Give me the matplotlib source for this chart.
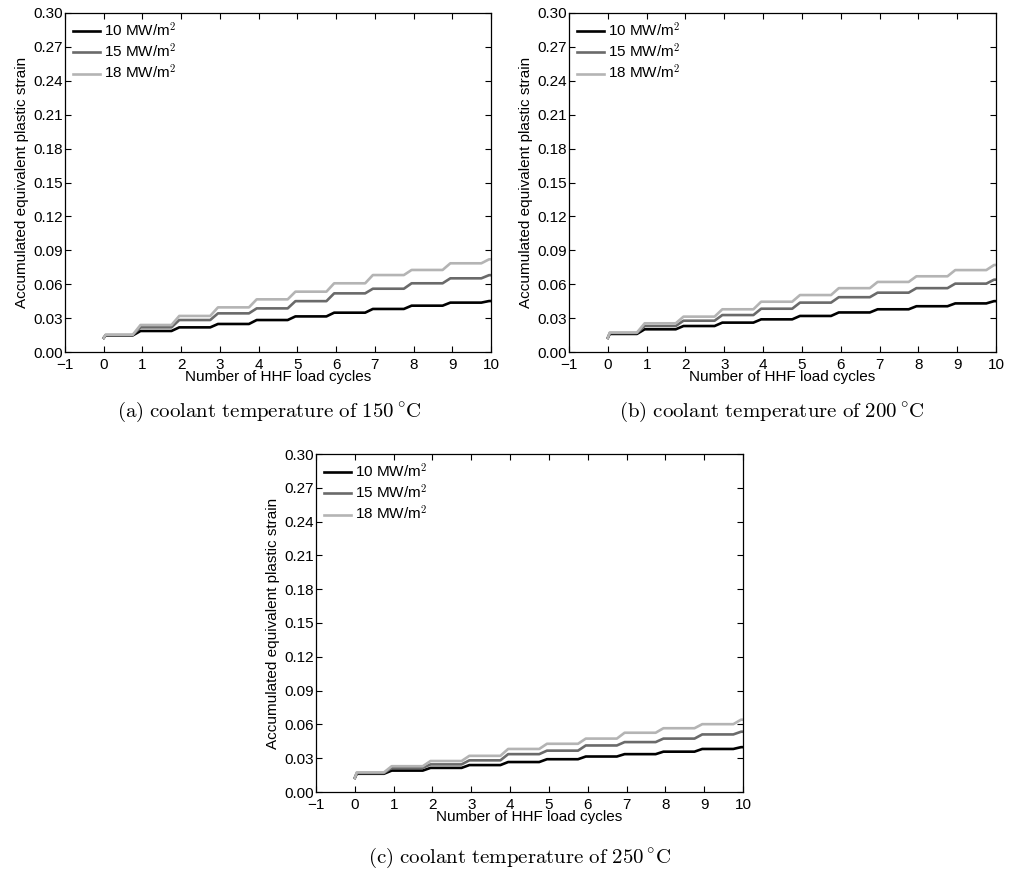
import matplotlib
matplotlib.use("Agg")
import matplotlib.pyplot as plt
import numpy as np

plt.rcParams['font.family'] = ['Liberation Sans', 'DejaVu Sans']
plt.rcParams['mathtext.fontset'] = 'cm'
plt.rcParams['axes.unicode_minus'] = True

# cycle numbers (plateau index)
cycles = list(range(0, 11))
start_strain = 0.0125
labels = ['10 MW/m$^2$', '15 MW/m$^2$', '18 MW/m$^2$']
colors = ['#000000', '#6a6a6a', '#b4b4b4']

# plateau values of accumulated equivalent plastic strain after each cycle
a_10 = [0.0147, 0.0186, 0.0218, 0.0248, 0.0283, 0.0315, 0.0348, 0.0381, 0.0410, 0.0437, 0.0451]
a_15 = [0.0150, 0.0218, 0.0283, 0.0342, 0.0386, 0.0450, 0.0519, 0.0560, 0.0608, 0.0652, 0.0680]
a_18 = [0.0153, 0.0239, 0.0319, 0.0395, 0.0466, 0.0534, 0.0608, 0.0681, 0.0726, 0.0785, 0.0820]

b_10 = [0.0160, 0.0201, 0.0230, 0.0260, 0.0289, 0.0319, 0.0350, 0.0378, 0.0405, 0.0430, 0.0450]
b_15 = [0.0168, 0.0230, 0.0277, 0.0327, 0.0383, 0.0437, 0.0485, 0.0525, 0.0565, 0.0605, 0.0640]
b_18 = [0.0172, 0.0254, 0.0313, 0.0378, 0.0445, 0.0504, 0.0565, 0.0620, 0.0670, 0.0725, 0.0770]

c_10 = [0.0162, 0.0190, 0.0214, 0.0239, 0.0266, 0.0291, 0.0315, 0.0336, 0.0358, 0.0382, 0.0398]
c_15 = [0.0168, 0.0214, 0.0245, 0.0281, 0.0336, 0.0367, 0.0413, 0.0443, 0.0474, 0.0511, 0.0535]
c_18 = [0.0174, 0.0229, 0.0275, 0.0321, 0.0382, 0.0428, 0.0474, 0.0526, 0.0566, 0.0602, 0.0642]

captions = [r'$\mathrm{(a)\ coolant\ temperature\ of\ 150\,^{\circ}C}$',
            r'$\mathrm{(b)\ coolant\ temperature\ of\ 200\,^{\circ}C}$',
            r'$\mathrm{(c)\ coolant\ temperature\ of\ 250\,^{\circ}C}$']

xticks = list(range(-1, 11))
yticks = [0.00, 0.03, 0.06, 0.09, 0.12, 0.15, 0.18, 0.21, 0.24, 0.27, 0.30]


def staircase(vals):
    xs = [cycles[0], cycles[0] + 0.05]
    ys = [start_strain, vals[0]]
    for k in range(len(vals) - 1):
        xs += [cycles[k] + 0.75, cycles[k] + 0.95]
        ys += [vals[k], vals[k + 1]]
    xs.append(cycles[-1])
    ys.append(vals[-1])
    return xs, ys


W, H = 1010, 873
fig = plt.figure(figsize=(W / 100, H / 100), dpi=100)

# axes boxes in pixels: left, top, right, bottom
boxes = [(65, 13, 491, 352), (569, 13, 996, 352), (316, 454, 743, 792)]
series = [(a_10, a_15, a_18), (b_10, b_15, b_18), (c_10, c_15, c_18)]
cap_pos = [(269, 412), (772, 412), (520, 858)]

fs = 11
for (l, t, r, b), ser, cap, (cx, cy) in zip(boxes, series, captions, cap_pos):
    ax = fig.add_axes([l / W, 1 - b / H, (r - l) / W, (b - t) / H])
    for vals, lab, col in zip(ser, labels, colors):
        xs, ys = staircase(vals)
        ax.plot(xs, ys, color=col, lw=1.9, label=lab, solid_joinstyle='round')
    ax.set_xlim(-1, 10)
    ax.set_ylim(0, 0.30)
    ax.set_xticks(xticks)
    ax.set_yticks(yticks)
    ax.set_yticklabels(['%.2f' % v for v in yticks])
    ax.tick_params(direction='in', top=True, right=True, length=4, width=0.8,
                   labelsize=fs)
    ax.tick_params(axis='y', pad=1.5)
    ax.tick_params(axis='x', pad=4.5)
    for sp in ax.spines.values():
        sp.set_linewidth(0.9)
    ax.set_xlabel('Number of HHF load cycles', fontsize=fs, labelpad=-1.5)
    ax.set_ylabel('Accumulated equivalent plastic strain', fontsize=fs, labelpad=3)
    ax.legend(loc='upper left', frameon=False, fontsize=fs, handlelength=1.75,
              handletextpad=0.25, labelspacing=0.2, borderaxespad=0.3,
              borderpad=0.25)
    fig.text(cx / W, 1 - cy / H, cap, ha='center', va='center', fontsize=15)

fig.savefig('out.png', dpi=100)
